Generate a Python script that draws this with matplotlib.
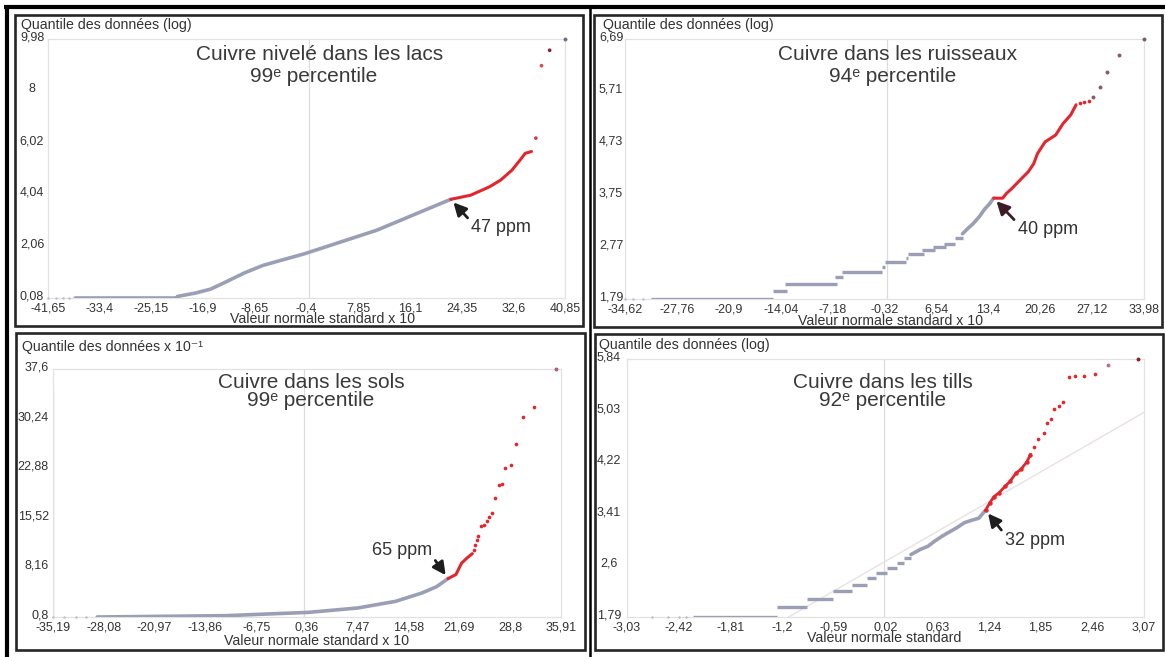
import matplotlib
matplotlib.use("Agg")
import matplotlib.pyplot as plt
from matplotlib.patches import Rectangle
from matplotlib.lines import Line2D
from matplotlib.transforms import ScaledTranslation

plt.rcParams['font.family'] = ['Liberation Sans', 'DejaVu Sans']

W, H = 1165, 657

# ---------------- data ----------------
# Lake sediments (log scale quantiles)
lacs_xticks = [-41.65, -33.4, -25.15, -16.9, -8.65, -0.4, 7.85, 16.1, 24.35, 32.6, 40.85]
lacs_yticks = [0.08, 2.06, 4.04, 6.02, 8, 9.98]
lacs_low_x = [-41.65, -40.4, -39.3, -38.3]
lacs_low_y = [0.08, 0.08, 0.08, 0.08]
lacs_gray_x = [-37.3, -21.1, -21.0, -18.1, -15.7, -13.3, -10.3, -7.3, -0.6, 10.8, 22.6]
lacs_gray_y = [0.08, 0.08, 0.14, 0.27, 0.42, 0.69, 1.04, 1.33, 1.78, 2.67, 3.85]
lacs_red_x = [22.6, 25.8, 28.8, 30.6, 32.4, 33.9, 34.5, 35.5]
lacs_red_y = [3.85, 4.01, 4.33, 4.59, 4.97, 5.42, 5.61, 5.68]
lacs_out_x = [36.2, 37.1, 38.4]
lacs_out_y = [6.19, 8.96, 9.55]
lacs_max = (40.85, 9.98)
lacs_label = "47 ppm"
lacs_label_pos = (25.9, 2.76)

# Stream sediments
ruis_xticks = [-34.62, -27.76, -20.9, -14.04, -7.18, -0.32, 6.54, 13.4, 20.26, 27.12, 33.98]
ruis_yticks = [1.79, 2.77, 3.75, 4.73, 5.71, 6.69]
ruis_low_x = [-34.62, -33.5, -32.3]
ruis_low_y = [1.79, 1.79, 1.79]
ruis_step_x0 = [-31.2, -15.1, -13.5, -6.8, -6.0, -0.7, -0.2, 2.5, 2.85, 4.65, 6.1, 7.6, 9.0]
ruis_step_x1 = [-15.0, -13.2, -6.65, -5.8, -0.7, -0.2, 2.5, 2.85, 4.9, 6.35, 7.8, 9.0, 10.0]
ruis_step_y = [1.79, 1.95, 2.08, 2.20, 2.30, 2.40, 2.48, 2.56, 2.64, 2.71, 2.77, 2.83, 2.94]
ruis_gray_x = [10.0, 10.7, 11.4, 12.2, 12.9, 13.6, 14.1]
ruis_gray_y = [3.02, 3.12, 3.21, 3.34, 3.48, 3.59, 3.69]
ruis_red_x = [14.1, 15.3, 15.8, 16.5, 17.25, 18.0, 18.7, 19.4, 19.9, 20.9, 22.3, 23.3, 24.3, 25.0]
ruis_red_y = [3.69, 3.69, 3.78, 3.87, 3.98, 4.09, 4.19, 4.34, 4.53, 4.75, 4.88, 5.10, 5.26, 5.45]
ruis_out_x = [25.5, 26.0, 26.7]
ruis_out_y = [5.48, 5.51, 5.53]
ruis_top_x = [27.3, 28.2, 29.1, 30.7]
ruis_top_y = [5.60, 5.78, 6.06, 6.39]
ruis_max = (33.98, 6.69)
ruis_label = "40 ppm"
ruis_label_pos = (17.3, 3.10)

# Soils (x 10^-1)
sols_xticks = [-35.19, -28.08, -20.97, -13.86, -6.75, 0.36, 7.47, 14.58, 21.69, 28.8, 35.91]
sols_yticks = [0.8, 8.16, 15.52, 22.88, 30.24, 37.6]
sols_low_x = [-35.19, -33.6, -32.0, -30.6]
sols_low_y = [0.8, 0.8, 0.8, 0.8]
sols_gray_x = [-29.0, -10.96, 0.6, 7.47, 12.74, 16.43, 18.5, 20.1]
sols_gray_y = [0.8, 1.0, 1.49, 2.14, 3.12, 4.36, 5.3, 6.5]
sols_red_x = [20.1, 21.2, 22.0, 22.75, 23.5]
sols_red_y = [6.5, 7.1, 8.8, 9.55, 10.2]
sols_out_x = [23.7, 23.9, 24.1, 24.3, 24.75, 25.1, 25.5, 25.8, 26.2, 26.7, 27.2, 27.6,
              28.1, 28.9, 29.6, 30.65, 32.1]
sols_out_y = [10.8, 11.5, 12.2, 12.8, 14.3, 14.5, 15.0, 15.6, 16.3, 18.5, 20.4, 20.6,
              22.9, 23.4, 26.5, 30.5, 31.9]
sols_max = (35.2, 37.6)
sols_label = "65 ppm"
sols_label_pos = (9.4, 10.7)

# Tills
tills_xticks = [-3.03, -2.42, -1.81, -1.2, -0.59, 0.02, 0.63, 1.24, 1.85, 2.46, 3.07]
tills_yticks = [1.79, 2.6, 3.41, 4.22, 5.03, 5.84]
tills_low_x = [-2.73, -2.55, -2.42, -2.33]
tills_low_y = [1.79, 1.79, 1.79, 1.79]
tills_step_x0 = [-2.25, -1.26, -0.91, -0.60, -0.38, -0.20, -0.09, 0.04, 0.15, 0.24]
tills_step_x1 = [-1.26, -0.91, -0.60, -0.38, -0.20, -0.09, 0.04, 0.15, 0.24, 0.32]
tills_step_y = [1.79, 1.95, 2.08, 2.20, 2.30, 2.40, 2.48, 2.56, 2.64, 2.71]
tills_gray_x = [0.32, 0.43, 0.52, 0.60, 0.69, 0.78, 0.86, 0.95, 1.04, 1.12, 1.2]
tills_gray_y = [2.77, 2.85, 2.90, 2.98, 3.06, 3.13, 3.19, 3.27, 3.31, 3.34, 3.466]
tills_red_x = [1.2, 1.25, 1.30, 1.36, 1.43, 1.49, 1.56, 1.62, 1.69, 1.73]
tills_red_y = [3.466, 3.58, 3.68, 3.74, 3.84, 3.92, 4.05, 4.11, 4.23, 4.34]
tills_out_x = [1.77, 1.82, 1.89, 1.92, 1.97, 2.01, 2.07, 2.12, 2.18, 2.26, 2.36, 2.49]
tills_out_y = [4.46, 4.58, 4.68, 4.83, 4.90, 5.06, 5.11, 5.16, 5.55, 5.57, 5.58, 5.61]
tills_top_x = [2.65]
tills_top_y = [5.75]
tills_max = (3.0, 5.84)
tills_ref_intercept = 2.65
tills_ref_slope = 0.766
tills_label = "32 ppm"
tills_label_pos = (1.43, 2.99)

# ---------------- styling ----------------
GRAY = '#9b9fb6'
RED = '#e2262d'
DARK = '#333333'
FRAME = '#e2e2e2'

fig = plt.figure(figsize=(W / 100, H / 100), dpi=100)
fig.patch.set_facecolor('white')


def px_axes(x0, y0, x1, y1):
    return fig.add_axes([x0 / W, 1 - y1 / H, (x1 - x0) / W, (y1 - y0) / H])


def ftext(x, y, s, **kw):
    kw.setdefault('va', 'center')
    kw.setdefault('ha', 'left')
    kw.setdefault('color', DARK)
    fig.text(x / W, 1 - y / H, s, **kw)


def fline(xs, ys, lw, color='black'):
    fig.add_artist(Line2D([x / W for x in xs], [1 - y / H for y in ys],
                          lw=lw, color=color, transform=fig.transFigure,
                          solid_capstyle='butt'))


def frame_box(x0, y0, x1, y1):
    fig.add_artist(Rectangle((x0 / W, 1 - y1 / H), (x1 - x0) / W, (y1 - y0) / H,
                             fill=False, lw=1.9, edgecolor='#262626',
                             transform=fig.transFigure))


def setup(ax, xt, yt, ylab_pad, ylab_ha):
    ax.set_xlim(xt[0], xt[-1])
    ax.set_ylim(yt[0], yt[-1])
    ax.set_xticks(xt)
    ax.set_yticks(yt)
    ax.set_xticklabels([f"{v:g}".replace('.', ',') for v in xt])
    ax.set_yticklabels([f"{v:g}".replace('.', ',') for v in yt])
    ax.tick_params(length=0, labelsize=9, colors=DARK, pad=3)
    ax.tick_params(axis='y', pad=ylab_pad)
    lift = ScaledTranslation(0, 0.03, fig.dpi_scale_trans)
    for lab in ax.get_yticklabels():
        lab.set_ha(ylab_ha)
        lab.set_transform(lab.get_transform() + lift)
    for sp in ax.spines.values():
        sp.set_color(FRAME)
        sp.set_linewidth(0.9)
    ax.axvline(0, color='#dcdcdc', lw=0.9, zorder=0)


def draw_common(ax, low_x, low_y, gray_x, gray_y, red_x, red_y, out_x, out_y, vmax,
                out_color=RED, max_color='#6e6e80'):
    ax.scatter(low_x, low_y, s=3, color='#b9bccb', zorder=3, clip_on=False, lw=0)
    ax.plot(gray_x, gray_y, color=GRAY, lw=2.6, solid_capstyle='round', zorder=3)
    ax.plot(red_x, red_y, color=RED, lw=2.2, solid_capstyle='round', zorder=4)
    ax.scatter(out_x, out_y, s=7, color=out_color, zorder=4, lw=0, clip_on=False)
    ax.scatter([vmax[0]], [vmax[1]], s=8, color=max_color, zorder=5, lw=0, clip_on=False)


def arrow(ax, label, pos, target, color='#1e1e1e', relpos=(0.0, 0.85)):
    ax.annotate(label, xy=target, xytext=pos, fontsize=13, color=DARK,
                ha='left', va='center', zorder=6,
                arrowprops=dict(arrowstyle='-|>,head_length=0.55,head_width=0.28',
                                lw=2.0, color=color, mutation_scale=14,
                                shrinkA=1, shrinkB=3, relpos=relpos))


# ---- figure-level frame ----
fline([4, 1165], [6.5, 6.5], 3.0)
fline([7, 7], [5, 657], 3.0)
fline([589.5, 589.5], [8, 657], 1.8)
frame_box(15, 15, 583, 326)
frame_box(594, 15, 1162, 327)
frame_box(16, 333, 585, 650)
frame_box(595, 334, 1163, 650)

TITLE_KW = dict(fontsize=15, ha='center', color='#3a3a3a')
YLAB_KW = dict(fontsize=10.2)
XLAB_KW = dict(fontsize=10.2, ha='center')

# ---- Lakes panel ----
ax = px_axes(48, 39, 565, 298)
setup(ax, lacs_xticks, lacs_yticks, 11.5, 'center')
draw_common(ax, lacs_low_x, lacs_low_y, lacs_gray_x, lacs_gray_y,
            lacs_red_x, lacs_red_y, lacs_out_x, lacs_out_y, lacs_max,
            out_color=['#d63a44', '#df4650', '#8c1d2c'])
arrow(ax, lacs_label, lacs_label_pos, (lacs_red_x[0], lacs_red_y[0]))
ftext(21, 25, "Quantile des données (log)", **YLAB_KW)
ftext(320, 55, "Cuivre nivelé dans les lacs", **TITLE_KW)
ftext(314, 76, "99ᵉ percentile", **TITLE_KW)
ftext(322, 319, "Valeur normale standard x 10", **XLAB_KW)

# ---- Streams panel ----
ax = px_axes(625, 39, 1144, 299)
setup(ax, ruis_xticks, ruis_yticks, 10, 'center')
ax.scatter(ruis_low_x, ruis_low_y, s=3, color='#b9bccb', zorder=3, clip_on=False, lw=0)
for x0, x1, y in zip(ruis_step_x0, ruis_step_x1, ruis_step_y):
    ax.plot([x0, x1], [y, y], color=GRAY, lw=2.4, solid_capstyle='butt', zorder=3)
ax.plot(ruis_gray_x, ruis_gray_y, color=GRAY, lw=2.6, solid_capstyle='round', zorder=3)
ax.plot(ruis_red_x, ruis_red_y, color=RED, lw=2.2, solid_capstyle='round', zorder=4)
ax.scatter(ruis_out_x, ruis_out_y, s=7, color=RED, zorder=4, lw=0)
ax.scatter(ruis_top_x, ruis_top_y, s=8, color='#8a5a6c', zorder=4, lw=0)
ax.scatter([ruis_max[0]], [ruis_max[1]], s=8, color='#7a5a6a', zorder=5, lw=0, clip_on=False)
arrow(ax, ruis_label, ruis_label_pos, (ruis_red_x[0], ruis_red_y[0]), color='#3b1c28')
ftext(603, 25, "Quantile des données (log)", **YLAB_KW)
ftext(898, 55, "Cuivre dans les ruisseaux", **TITLE_KW)
ftext(893, 76, "94ᵉ percentile", **TITLE_KW)
ftext(891, 321, "Valeur normale standard x 10", **XLAB_KW)

# ---- Soils panel ----
ax = px_axes(53, 369, 561, 617)
setup(ax, sols_xticks, sols_yticks, 3, 'right')
ax.axvline(sols_xticks[0], ymin=0, ymax=0.91, color='#555555', lw=0.8, zorder=2)
draw_common(ax, sols_low_x, sols_low_y, sols_gray_x, sols_gray_y,
            sols_red_x, sols_red_y, sols_out_x, sols_out_y, sols_max,
            max_color='#b0606e')
arrow(ax, sols_label, sols_label_pos, (sols_red_x[0], sols_red_y[0]), relpos=(1.0, 0.2))
ftext(22, 347, "Quantile des données x 10⁻¹", **YLAB_KW)
ftext(311, 383, "Cuivre dans les sols", **TITLE_KW)
ftext(311, 401, "99ᵉ percentile", **TITLE_KW)
ftext(317, 641, "Valeur normale standard x 10", **XLAB_KW)

# ---- Tills panel ----
ax = px_axes(627, 359, 1144, 617)
setup(ax, tills_xticks, tills_yticks, 13, 'center')
ax.axline((0, tills_ref_intercept), slope=tills_ref_slope, color='#e9e1e3', lw=1.0, zorder=1)
ax.scatter(tills_low_x, tills_low_y, s=3, color='#b9bccb', zorder=3, clip_on=False, lw=0)
for x0, x1, y in zip(tills_step_x0, tills_step_x1, tills_step_y):
    ax.plot([x0, x1], [y, y], color=GRAY, lw=2.4, solid_capstyle='butt', zorder=3)
ax.plot(tills_gray_x, tills_gray_y, color=GRAY, lw=2.6, solid_capstyle='round', zorder=3)
ax.plot(tills_red_x, tills_red_y, color=RED, lw=2.0, marker='o', ms=2.2, zorder=4)
ax.scatter(tills_out_x, tills_out_y, s=7, color=RED, zorder=4, lw=0)
ax.scatter(tills_top_x, tills_top_y, s=8, color='#c07080', zorder=4, lw=0)
ax.scatter([tills_max[0]], [tills_max[1]], s=8, color='#8c1d2c', zorder=5, lw=0, clip_on=False)
arrow(ax, tills_label, tills_label_pos, (tills_red_x[0], tills_red_y[0]))
ftext(599, 345, "Quantile des données (log)", **YLAB_KW)
ftext(883, 383, "Cuivre dans les tills", **TITLE_KW)
ftext(883, 401, "92ᵉ percentile", **TITLE_KW)
ftext(884, 638, "Valeur normale standard", **XLAB_KW)

fig.savefig("out.png", dpi=100, facecolor='white')
